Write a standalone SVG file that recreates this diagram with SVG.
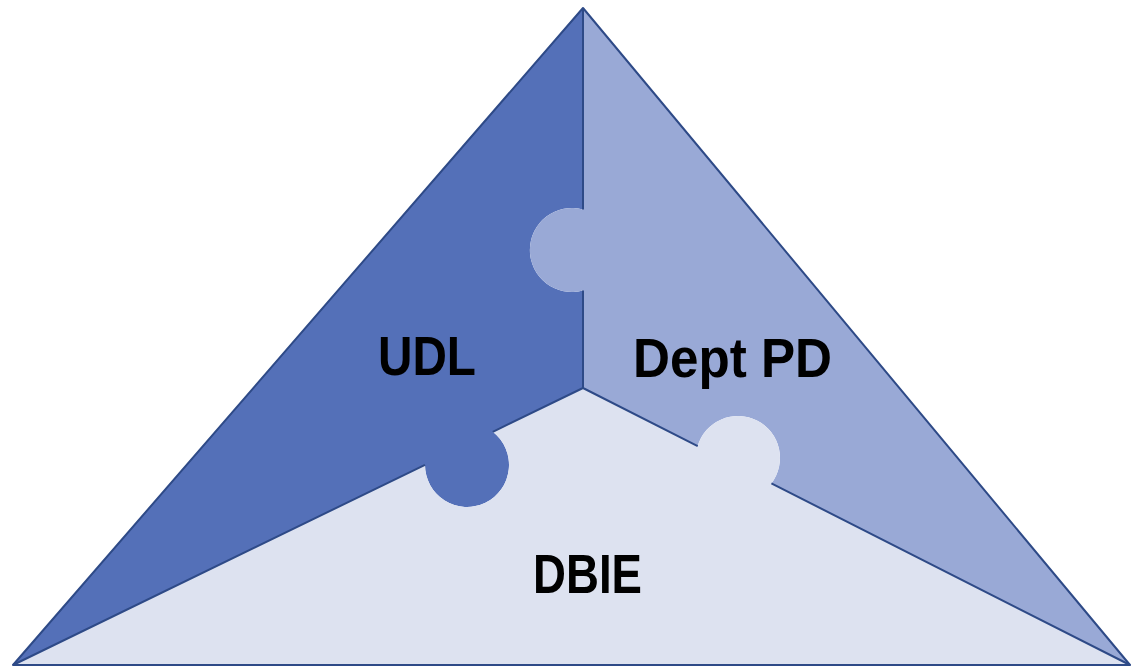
<svg xmlns="http://www.w3.org/2000/svg" width="1134" height="667" viewBox="0 0 1134 667">
<style>
.lbl{font-family:"Liberation Sans",Arial,sans-serif;font-weight:bold;font-size:55px;fill:#000}
.edge{fill:none;stroke:#2E4A87;stroke-width:2;stroke-linejoin:round}
</style>
<rect width="1134" height="667" fill="#fff"/>
<g id="udl">
<path d="M583,8 L583,209.5 A42,42 0 1,0 583,290.5 L583,388 L492.8,431.8 A42,42 0 1,1 425,464.8 L13,665 Z" fill="#5470B8"/>
<text class="lbl" x="378" y="375" textLength="98" lengthAdjust="spacingAndGlyphs">UDL</text>
</g>
<g id="deptpd">
<path d="M583,8 L1130,665 L771.4,483.4 A42,42 0 1,0 697.7,446.1 L583,388 L583,290.5 A42,42 0 1,1 583,209.5 Z" fill="#99A9D6"/>
<text class="lbl" x="633" y="377" textLength="199" lengthAdjust="spacingAndGlyphs">Dept PD</text>
</g>
<g id="dbie">
<path d="M13,665 L425,464.8 A42,42 0 1,0 492.8,431.8 L583,388 L697.7,446.1 A42,42 0 1,1 771.4,483.4 L1130,665 Z" fill="#DDE2F0"/>
<text class="lbl" x="533" y="593" textLength="109" lengthAdjust="spacingAndGlyphs">DBIE</text>
</g>
<g id="connectors">
<path class="edge" d="M583,8 L1130,665 L13,665 Z"/>
<path class="edge" d="M583,8 L583,209.5 M583,290.5 L583,388 L492.8,431.8 M425,464.8 L13,665 M583,388 L697.7,446.1 M771.4,483.4 L1130,665"/>
</g>
</svg>
